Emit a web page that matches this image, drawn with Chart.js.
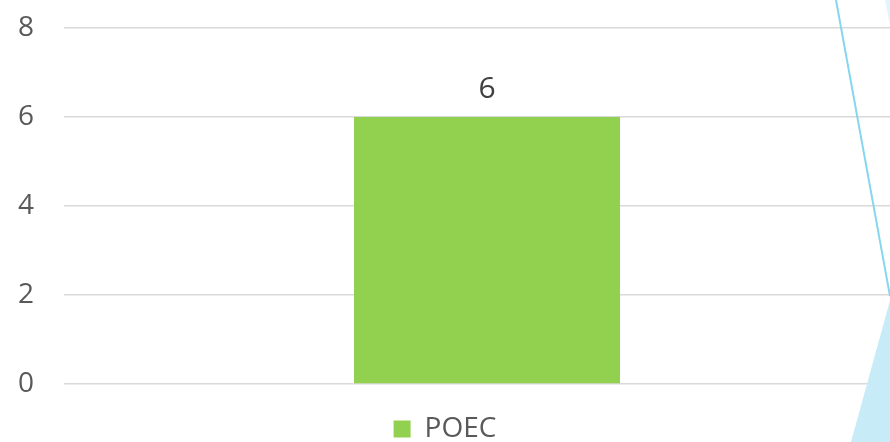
<!DOCTYPE html>
<html>
<head>
<meta charset="utf-8">
<script src="https://cdn.jsdelivr.net/npm/chart.js@4.4.1/dist/chart.umd.min.js"></script>
<style>
  html, body { margin:0; padding:0; background:#fff; overflow:hidden; }
  #wrap { width:890px; height:442px; overflow:hidden; position:relative; }
  #box { width:910px; height:442px; }
</style>
</head>
<body>
<div id="wrap"><div id="box"><canvas id="chart"></canvas></div></div>
<script>
const categories = [""];
const seriesName = "POEC";
const seriesValues = [6];
const yTicks = [0, 2, 4, 6, 8];

const VIEW_W = 890;
const FONT = "'Open Sans', sans-serif";

// value label above each bar
const barLabels = {
  id: "barLabels",
  afterDatasetsDraw(chart){
    const ctx = chart.ctx;
    ctx.save();
    ctx.font = "30px " + FONT;
    ctx.fillStyle = "#404040";
    ctx.textAlign = "center";
    ctx.textBaseline = "alphabetic";
    chart.getDatasetMeta(0).data.forEach((el, i) => {
      ctx.fillText(String(seriesValues[i]), el.x, el.y - 19);
    });
    ctx.restore();
  }
};

// keep legend centred on the visible window, not the wider canvas
const legendShift = {
  id: "legendShift",
  afterLayout(chart){
    const lg = chart.legend;
    lg.right = VIEW_W;
    lg.width = lg.right - lg.left;
  }
};

// slide background decoration at the right edge
const decor = {
  id: "decor",
  afterDraw(chart){
    const ctx = chart.ctx, h = chart.height;
    ctx.save();
    ctx.fillStyle = "#c8ebf8";
    ctx.beginPath();
    ctx.moveTo(VIEW_W, h * 0.68);
    ctx.lineTo(VIEW_W - 39, h);
    ctx.lineTo(VIEW_W, h);
    ctx.closePath();
    ctx.fill();
    ctx.fillStyle = "#e3f5fc";
    ctx.beginPath();
    ctx.moveTo(VIEW_W - 5, 0);
    ctx.lineTo(VIEW_W, 0);
    ctx.lineTo(VIEW_W, 26);
    ctx.closePath();
    ctx.fill();
    ctx.strokeStyle = "#86d6ef";
    ctx.lineWidth = 2;
    ctx.beginPath();
    ctx.moveTo(VIEW_W - 54, 0);
    ctx.lineTo(VIEW_W, h * 0.67);
    ctx.stroke();
    ctx.restore();
  }
};

new Chart(document.getElementById("chart"), {
  type: "bar",
  data: {
    labels: categories,
    datasets: [{
      label: seriesName,
      data: seriesValues,
      backgroundColor: "#92d050",
      categoryPercentage: 1,
      barPercentage: 0.3144
    }]
  },
  options: {
    responsive: true,
    maintainAspectRatio: false,
    animation: false,
    layout: { padding: { top: 28, bottom: -11, left: 0, right: 0 } },
    plugins: {
      legend: {
        display: true,
        position: "bottom",
        labels: {
          boxWidth: 17,
          boxHeight: 17,
          padding: 31,
          color: "#595959",
          font: { family: FONT, size: 28 }
        }
      },
      tooltip: { enabled: false }
    },
    scales: {
      x: { display: false },
      y: {
        min: yTicks[0],
        max: yTicks[yTicks.length - 1],
        afterBuildTicks(scale){ scale.ticks = yTicks.map(v => ({ value: v })); },
        afterFit(scale){
          scale.width = 64;
          scale.paddingTop = 0;
          scale.paddingBottom = 0;
        },
        border: { display: false },
        grid: { color: "#d9d9d9", lineWidth: 1.5, drawTicks: false },
        ticks: { color: "#595959", padding: 30, font: { family: FONT, size: 28 } }
      }
    }
  },
  plugins: [barLabels, legendShift, decor]
});
</script>
</body>
</html>
